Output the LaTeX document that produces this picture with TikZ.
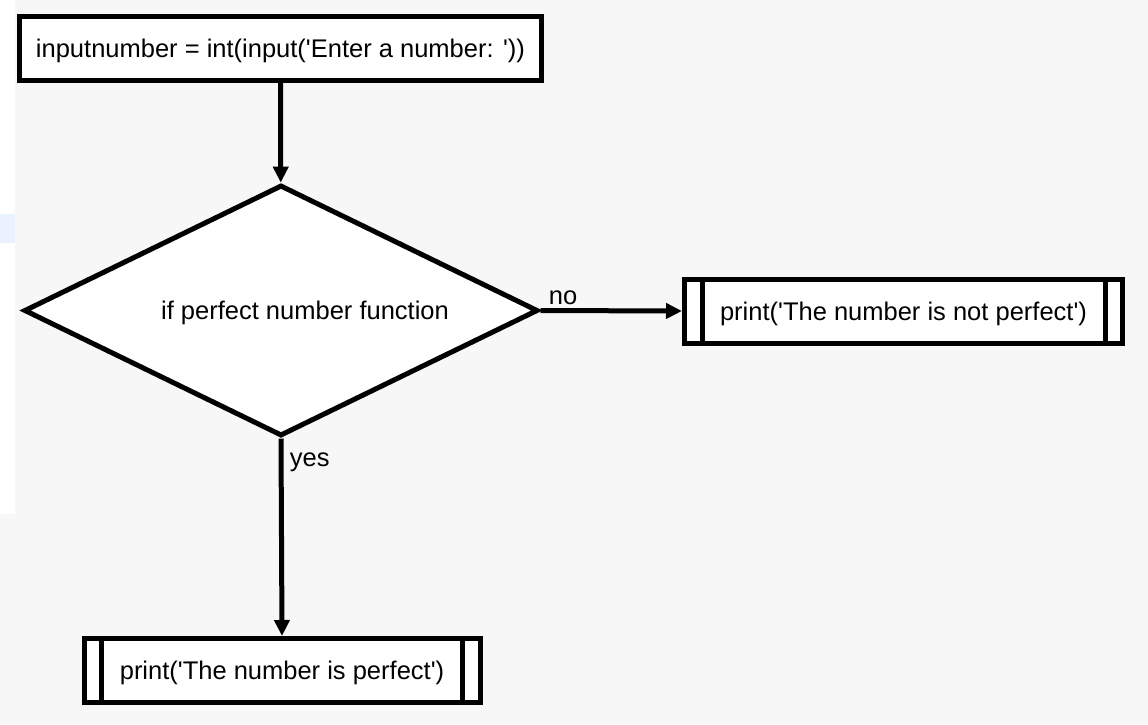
\documentclass[tikz,border=0pt]{standalone}
\usepackage{fontspec}
\setmainfont{Liberation Sans}
\usetikzlibrary{shapes.geometric,arrows.meta,positioning}

\definecolor{bggray}{HTML}{F7F7F7}
\definecolor{sidebar}{HTML}{EAF2FD}
\newcommand{\sq}{\textquotesingle}

\tikzset{
    flowtext/.style={font=\fontsize{25.5}{30}\selectfont},
    box/.style={flowtext, draw, line width=5pt, fill=white, inner sep=0pt, minimum height=64pt, text depth=0pt},
    decision/.style={flowtext, draw, diamond, aspect=2, line width=5pt, fill=white, inner sep=0pt},
    procline/.style={line width=5pt},
    flow/.style={line width=5pt, -{Triangle[length=16pt,width=15pt]}}
}

\begin{document}
\begin{tikzpicture}[x=1pt,y=-1pt]

    \fill[bggray] (0,0) rectangle (1148,724);
    \fill[white] (0,0) rectangle (15,514);
    \fill[sidebar] (0,214) rectangle (15,243);
    \useasboundingbox (0,0) rectangle (1148,724);

    \node[box, minimum width=522pt] (input) at (280.5,48) {inputnumber = int(input(\sq Enter a number: \sq))};
    \node[decision, minimum width=514pt, minimum height=251pt,
          label={[flowtext, text depth=0pt, xshift=24pt]center:if perfect number function}] (check) at (281,310.5) {};
    \node[box, minimum width=438pt] (notperfect) at (903.5,311) {print(\sq The number is not perfect\sq)};
    \node[box, minimum width=396pt] (perfect) at (282,670.5) {print(\sq The number is perfect\sq)};

    \foreach \n in {notperfect,perfect} {
        \draw[procline] ([xshift=20pt]\n.north west) -- ([xshift=20pt]\n.south west);
        \draw[procline] ([xshift=-20pt]\n.north east) -- ([xshift=-20pt]\n.south east);
    }

    \draw[flow] (input) -- (check);
    \draw[flow] (check.east) -- node[flowtext, above, pos=0.16] {no} (notperfect.west);
    \draw[flow] (check.south) -- node[flowtext, right, pos=0.12, xshift=3pt] {yes} (perfect.north);

\end{tikzpicture}
\end{document}
